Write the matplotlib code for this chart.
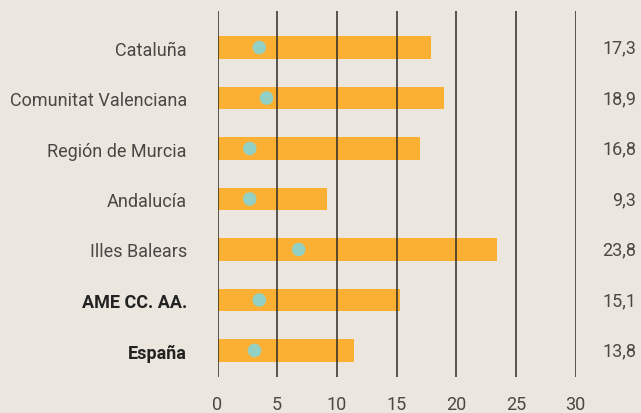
import matplotlib.pyplot as plt
import matplotlib.transforms as mtransforms

# datos
regiones = ["Cataluña", "Comunitat Valenciana", "Región de Murcia", "Andalucía",
            "Illes Balears", "AME CC. AA.", "España"]
barras = [17.9, 19.0, 17.0, 9.2, 23.4, 15.3, 11.4]
puntos = [3.5, 4.1, 2.7, 2.7, 6.8, 3.5, 3.1]
etiquetas = ["17,3", "18,9", "16,8", "9,3", "23,8", "15,1", "13,8"]
negrita = [False, False, False, False, False, True, True]
ticks_x = [0, 5, 10, 15, 20, 25, 30]

fondo = "#ebe7df"
naranja = "#fbb034"
verde = "#93d0c4"
gris = "#4a4744"

plt.rcParams['font.family'] = ['Roboto', 'DejaVu Sans']

W, H = 641, 414
fig = plt.figure(figsize=(W / 100, H / 100), dpi=100, facecolor=fondo)
ax = fig.add_axes([217.5 / W, (H - 378) / H, (575.7 - 217.5) / W, (378 - 12) / H])
ax.set_facecolor(fondo)

y = list(range(len(regiones)))
ax.barh(y, barras, height=0.455, color=naranja, zorder=1)
ax.vlines(ticks_x, 6.525, -0.723, color="#2e2b28", lw=1.1, zorder=2)
ax.scatter(puntos, y, s=95, color=verde, edgecolors="none", zorder=3)

ax.set_xlim(0, 30)
ax.set_ylim(6.525, -0.723)
for s in ax.spines.values():
    s.set_visible(False)

ax.set_xticks(ticks_x)
ax.set_xticklabels([str(t) for t in ticks_x], fontsize=13, color=gris)
ax.tick_params(axis="x", length=0, pad=13)

ax.set_yticks(y)
ax.set_yticklabels(regiones, fontsize=13, color=gris)
ax.tick_params(axis="y", length=0, pad=22)
for lab, b in zip(ax.get_yticklabels(), negrita):
    if b:
        lab.set_fontweight("bold")
        lab.set_color("#222222")

trans = mtransforms.blended_transform_factory(fig.transFigure, ax.transData)
for yi, txt in zip(y, etiquetas):
    ax.text(636 / W, yi, txt, transform=trans, ha="right", va="center",
            fontsize=13, color=gris)

fig.savefig("out.png", dpi=100, facecolor=fondo)
